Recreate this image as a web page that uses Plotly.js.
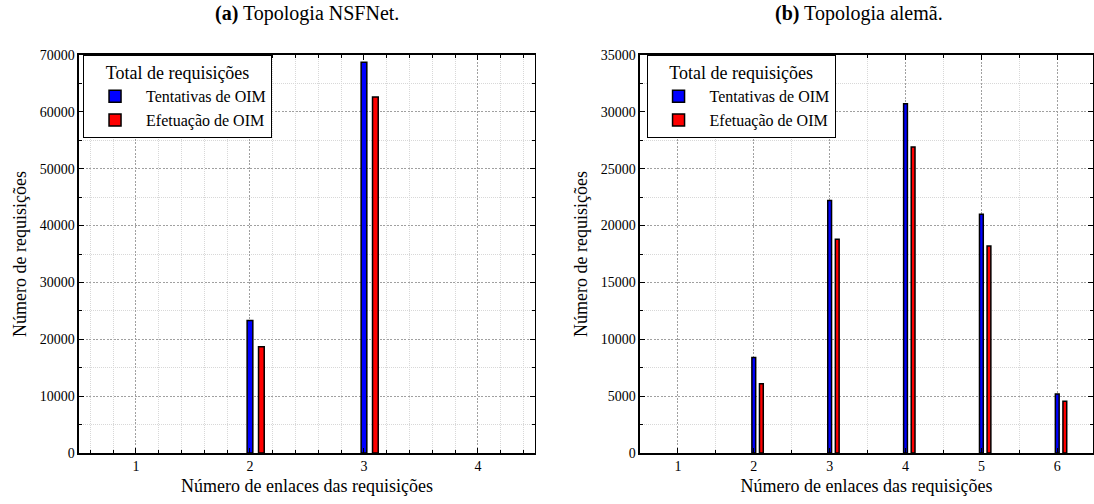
<!DOCTYPE html>
<html>
<head>
<meta charset="utf-8">
<script src="https://cdn.plot.ly/plotly-3.0.1.min.js"></script>
<style>html,body{margin:0;padding:0;background:#fff;}</style>
</head>
<body>
<div id="chart" style="width:1094px;height:504px;"></div>
<script>
// ---- data ----
const linksA = [2, 3];
const attemptsA = [23300, 68700];
const successA = [18700, 62600];

const linksB = [2, 3, 4, 5, 6];
const attemptsB = [8400, 22200, 30700, 21000, 5200];
const successB = [6100, 18800, 26900, 18200, 4550];

const seriesNames = ['Tentativas de OIM', 'Efetuação de OIM'];
const legendTitle = 'Total de requisições';
const titleA = '<b>(a)</b> Topologia NSFNet.';
const titleB = '<b>(b)</b> Topologia alemã.';
const xTitle = 'Número de enlaces das requisições';
const yTitle = 'Número de requisições';

const FONT = 'Times New Roman';
const barW = 0.05;
const barLine = {color: '#000', width: 1.5};

function bars(x, y, name, color, off, xa, ya, lg) {
  return {type: 'bar', x: x, y: y, name: name, width: barW, offset: off,
    marker: {color: color, line: barLine}, xaxis: xa, yaxis: ya, legend: lg,
    hoverinfo: 'x+y'};
}

const traces = [
  bars(linksA, attemptsA, seriesNames[0], '#0000ff', -barW/2, 'x', 'y', 'legend'),
  bars(linksA, successA, seriesNames[1], '#ff0000', 0.1 - barW/2, 'x', 'y', 'legend'),
  bars(linksB, attemptsB, seriesNames[0], '#0000ff', -barW/2, 'x2', 'y2', 'legend2'),
  bars(linksB, successB, seriesNames[1], '#ff0000', 0.1 - barW/2, 'x2', 'y2', 'legend2')
];

function xaxis(domain, range, minorDtick, anchor) {
  return {domain: domain, range: range, anchor: anchor, dtick: 1, tick0: 0,
    ticks: 'inside', ticklen: 5, tickwidth: 1, tickcolor: '#000',
    showline: true, linecolor: '#000', linewidth: 1.5, mirror: 'ticks',
    showgrid: true, gridcolor: '#a0a0a0', griddash: '2px,1.5px', gridwidth: 1,
    zeroline: false,
    tickfont: {family: FONT, size: 14, color: '#000'},
    minor: {dtick: minorDtick, ticks: 'inside', ticklen: 3, tickcolor: '#000',
      showgrid: true, gridcolor: '#d8d8d8', griddash: '1px,1px', gridwidth: 1},
    title: {text: xTitle, font: {family: FONT, size: 18, color: '#000'}, standoff: 6}};
}
function yaxis(domain, range, dtick, minorDtick, anchor) {
  return {domain: domain, range: range, anchor: anchor, dtick: dtick, tick0: 0,
    tickformat: 'd',
    ticks: 'inside', ticklen: 5, tickwidth: 1, tickcolor: '#000',
    showline: true, linecolor: '#000', linewidth: 1.5, mirror: 'ticks',
    showgrid: true, gridcolor: '#a0a0a0', griddash: '2px,1.5px', gridwidth: 1,
    zeroline: false,
    tickfont: {family: FONT, size: 14, color: '#000'},
    minor: {dtick: minorDtick, ticks: 'inside', ticklen: 3, tickcolor: '#000',
      showgrid: true, gridcolor: '#d8d8d8', griddash: '1px,1px', gridwidth: 1},
    title: {text: yTitle, font: {family: FONT, size: 18, color: '#000'}, standoff: 8}};
}

function legend(x) {
  return {x: x, y: 0.891, xanchor: 'left', yanchor: 'top',
    bgcolor: '#fff', bordercolor: '#000', borderwidth: 1,
    font: {family: FONT, size: 16, color: '#000'},
    title: {text: legendTitle, side: 'top center', font: {family: FONT, size: 18, color: '#000'}},
    itemwidth: 52, tracegroupgap: 0};
}

const yDom = [0.101, 0.891];
const layout = {
  width: 1094, height: 504,
  margin: {l: 0, r: 0, t: 0, b: 0},
  paper_bgcolor: '#fff', plot_bgcolor: '#fff',
  font: {family: FONT, color: '#000'},
  barmode: 'overlay',
  xaxis: xaxis([0.0722, 0.489], [0.5, 4.5], 0.2, 'y'),
  yaxis: yaxis(yDom, [0, 70000], 10000, 5000, 'x'),
  xaxis2: xaxis([0.585, 0.999], [0.5, 6.47], 0.5, 'y2'),
  yaxis2: yaxis(yDom, [0, 35000], 5000, 2500, 'x2'),
  legend: legend(0.0759),
  legend2: legend(0.591),
  annotations: [
    {text: titleA, xref: 'paper', yref: 'paper', x: 0.2806, y: 0.974, xanchor: 'center', yanchor: 'middle',
      showarrow: false, font: {family: FONT, size: 20, color: '#000'}},
    {text: titleB, xref: 'paper', yref: 'paper', x: 0.785, y: 0.974, xanchor: 'center', yanchor: 'middle',
      showarrow: false, font: {family: FONT, size: 20, color: '#000'}}
  ]
};

Plotly.newPlot('chart', traces, layout, {displayModeBar: false, staticPlot: true});
</script>
</body>
</html>
